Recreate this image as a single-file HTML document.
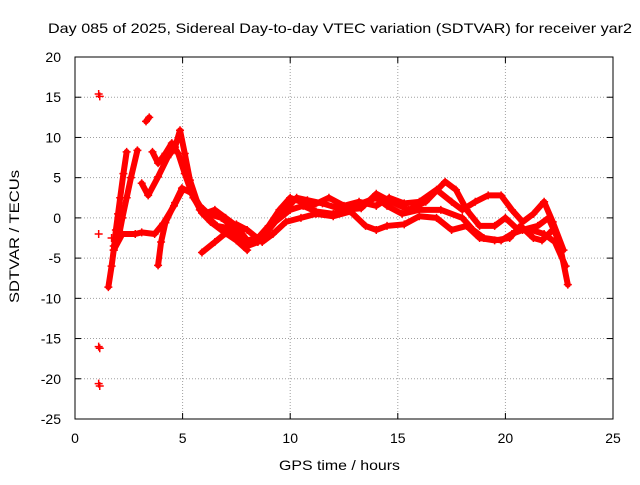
<!DOCTYPE html>
<html><head><meta charset="utf-8"><style>
body{margin:0;background:#fff;}
svg text{font-family:"Liberation Sans",Arial,sans-serif;font-size:14px;fill:#000;}
</style></head><body>
<svg width="640" height="480" id="chart">
<rect x="0" y="0" width="640" height="480" fill="#fff"/>
<text x="48" y="33" textLength="584" lengthAdjust="spacingAndGlyphs">Day 085 of 2025, Sidereal Day-to-day VTEC variation (SDTVAR) for receiver yar2</text>
<text x="279" y="470" textLength="121" lengthAdjust="spacingAndGlyphs">GPS time / hours</text>
<text transform="translate(19,303) rotate(-90)" textLength="133" lengthAdjust="spacingAndGlyphs">SDTVAR / TECUs</text>
<g id="grid"></g><g id="ticks"></g><g id="marks"></g>
<rect x="75" y="57" width="538" height="362" fill="none" stroke="#000"/>
</svg>
<script>
const xTicks=[0,5,10,15,20,25];
const yTicks=[20,15,10,5,0,-5,-10,-15,-20,-25];
const trackA=[[1.55,-8.6],[1.7,-6],[1.8,-4],[1.9,-1.5],[2.0,0.5],[2.1,2.5],[2.25,5.5],[2.4,8.2]];
const trackB=[[1.8,-3.5],[2.0,-2.8],[2.2,0],[2.4,2.5],[2.6,5],[2.9,8.4]];
const trackC=[[1.8,-4],[2.2,-2],[2.8,-2],[3.1,-1.8],[3.7,-2],[4.1,-0.7],[4.6,1.5],[5.0,3.5],[5.4,3.3],[5.8,1.5],[6.2,0.5],[6.8,0],[7.3,-1],[7.8,-2.5],[8.3,-3],[8.8,-2],[9.3,-0.5],[10,1],[10.6,1.5],[11.2,0.8],[12,0.5],[13,1.5],[14,2.5],[14.5,1.5],[15.2,0.5],[16,1],[17,1],[18,0],[18.5,-1.5],[19,-2.5],[19.8,-2.8],[20.3,-2],[20.8,-1.5],[21.5,-1],[22,0],[22.5,-3],[22.9,-8.3]];
const trackD=[[3.1,4.3],[3.4,2.8],[3.86,5.1],[4.3,7.5],[4.65,8.8],[4.88,10.9],[5.1,8],[5.34,4.7],[5.8,1],[6.2,0],[6.6,-1],[7,-1.2],[7.5,-2],[8,-3.5],[8.5,-3],[9,-1.5],[9.6,0.5],[10.3,2.5],[10.8,2.2],[11.5,1.8],[12.5,1],[13.3,1.2],[14,3],[14.7,2],[15.5,1],[16.3,2],[17.2,4.5],[17.7,3.5],[18.2,1],[18.8,-1],[19.5,-1],[20,0],[20.6,-1.5],[21.2,-1.5],[21.8,-2],[22.3,-3],[22.8,-6]];
const trackE=[[3.6,8.2],[3.86,6.8],[4.2,8],[4.5,9.3],[4.8,8],[5.1,5.5],[5.5,2.5],[6,0.5],[6.5,1],[7,0],[7.5,-1],[8,-2.8],[8.5,-2.5],[9,-1],[9.5,1],[10,2.5],[10.5,2],[11,1.5],[11.8,2.5],[12.5,1.5],[13.2,2],[14,1.5],[14.6,2.5],[15.3,1.8],[16,2],[16.8,3.5],[17.5,2],[18,1],[18.6,2],[19.2,2.8],[19.8,2.8],[20.3,1],[20.8,-0.5],[21.3,0.5],[21.8,2],[22.2,-0.5],[22.7,-4]];
const trackF=[[3.86,-5.9],[4.0,-3],[4.2,-0.6],[4.65,1.9],[4.97,3.7],[5.4,3.1],[5.9,0.6],[6.3,-0.5],[7,-1.9],[7.5,-0.8],[8,-1.5],[8.7,-3],[9.2,-2],[9.8,-0.5],[10.5,0],[11.2,0.5],[12,0.2],[12.8,0.8],[13.5,-1],[14,-1.5],[14.5,-1],[15.3,-0.8],[16,0.2],[16.8,0],[17.5,-1.5],[18.2,-1],[18.8,-2.5],[19.5,-2.8],[20.2,-2.5],[20.7,-1],[21.3,-2.5],[21.7,-2.8],[22.2,-1.5]];
const trackG=[[5.9,-4.3],[6.5,-3],[7,-1.9],[7.5,-2.8],[8,-4]];
const trackH=[[3.3,12],[3.45,12.5]];
const isolated=[[1.1,15.4],[1.15,15.1],[1.1,-16],[1.15,-16.2],[1.1,-20.6],[1.15,-20.9],[1.1,-2],[1.7,-2.5]];
const tracks=[trackA,trackB,trackC,trackD,trackE,trackF,trackG,trackH];
const NS="http://www.w3.org/2000/svg";
const sx=v=>75+v*538/25, sy=v=>57+(20-v)*362/45;
const grid=document.getElementById('grid'),ticks=document.getElementById('ticks'),marks=document.getElementById('marks');
function mk(t,a,p){const e=document.createElementNS(NS,t);for(const k in a)e.setAttribute(k,a[k]);p.appendChild(e);return e;}
xTicks.forEach(v=>{const x=sx(v);
 if(v>0&&v<25){const g=mk('line',{x1:x,x2:x,y1:57,y2:419,stroke:'#a0a0a0','stroke-dasharray':'1,2'},grid);
 
 }
 mk('line',{x1:x,x2:x,y1:419,y2:413,stroke:'#000'},ticks);mk('line',{x1:x,x2:x,y1:57,y2:63,stroke:'#000'},ticks);
 const t=mk('text',{x:x,y:443,'text-anchor':'middle'},ticks);t.textContent=v;
 
 });
yTicks.forEach(v=>{const y=sy(v);
 if(v<20&&v>-25){const g=mk('line',{x1:75,x2:613,y1:y,y2:y,stroke:'#a0a0a0','stroke-dasharray':'1,2'},grid);
 
 }
 mk('line',{x1:75,x2:81,y1:y,y2:y,stroke:'#000'},ticks);mk('line',{x1:607,x2:613,y1:y,y2:y,stroke:'#000'},ticks);
 const t=mk('text',{x:61,y:y+5,'text-anchor':'end'},ticks);t.textContent=v;
 
 });
function plus(p,g){const x=sx(p[0]),y=sy(p[1]);
 mk('path',{d:`M${x-4},${y}h8M${x},${y-4}v8`,stroke:'#f00','stroke-width':1.5},g);}
tracks.forEach(tr=>{const g=mk('g',{},marks);
 
 
 mk('polyline',{points:tr.map(p=>sx(p[0])+','+sy(p[1])).join(' '),fill:'none',stroke:'#f00','stroke-width':6,'stroke-linejoin':'round','stroke-linecap':'round'},g);
 tr.forEach(p=>plus(p,g));});
const gi=mk('g',{},marks);


isolated.forEach(p=>plus(p,gi));
</script>
</body></html>
